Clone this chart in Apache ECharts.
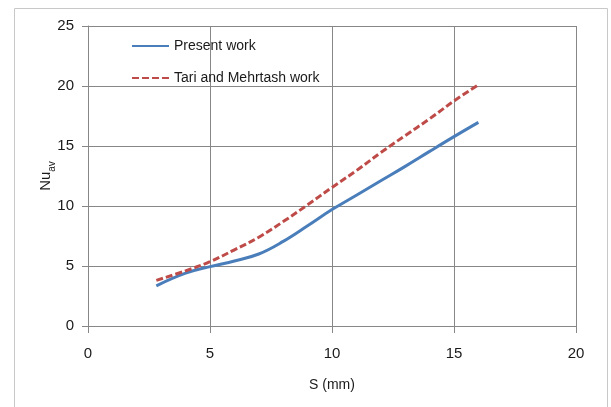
<!DOCTYPE html>
<html>
<head>
<meta charset="utf-8">
<script src="https://cdn.jsdelivr.net/npm/echarts@6/dist/echarts.min.js"></script>
<style>
  html, body { margin: 0; padding: 0; background: #ffffff; }
  #chart { width: 611px; height: 407px; }
</style>
</head>
<body>
<div id="chart"></div>
<script>
// Spacing S (mm) and average Nusselt number for both studies
const sPresent = [2.8, 4, 5, 6, 7, 8, 9, 10, 11, 12, 13, 14, 15, 16];
const nuPresent = [3.35, 4.4, 4.95, 5.42, 6.0, 7.05, 8.35, 9.7, 10.9, 12.1, 13.3, 14.55, 15.78, 16.97];

const sTari = [2.8, 4, 5, 6, 7, 8, 9, 10, 11, 12, 13, 14, 15, 16];
const nuTari = [3.8, 4.6, 5.36, 6.35, 7.4, 8.7, 10.1, 11.55, 12.95, 14.45, 15.87, 17.27, 18.75, 20.1];

const xTicks = [0, 5, 10, 15, 20];
const yTicks = [0, 5, 10, 15, 20, 25];

const seriesNames = ['Present work', 'Tari and Mehrtash work'];

const pairs = (xs, ys) => xs.map((x, i) => [x, ys[i]]);

const FONT = '"Liberation Sans", Arial, sans-serif';
const TEXT_COLOR = '#1a1a1a';
const GRID_COLOR = '#878787';

const chart = echarts.init(document.getElementById('chart'), null, { renderer: 'canvas' });

chart.setOption({
  backgroundColor: '#ffffff',
  animation: false,
  graphic: [{
    type: 'rect',
    shape: { x: 14.5, y: 8.5, width: 593, height: 410 },
    style: { fill: 'none', stroke: '#c8c8c8', lineWidth: 1 },
    silent: true,
    z: -10
  }],
  grid: { left: 88, right: 35, top: 26, bottom: 81, containLabel: false },
  legend: {
    orient: 'vertical',
    left: 126,
    top: 34,
    itemWidth: 37,
    itemHeight: 14,
    itemGap: 18,
    data: seriesNames,
    itemStyle: { opacity: 0 },
    textStyle: { fontFamily: FONT, fontSize: 14, color: TEXT_COLOR }
  },
  xAxis: {
    type: 'value',
    min: xTicks[0],
    max: xTicks[xTicks.length - 1],
    interval: 5,
    name: 'S (mm)',
    nameLocation: 'middle',
    nameGap: 52,
    nameMoveOverlap: false,
    nameTextStyle: { fontFamily: FONT, fontSize: 14, color: TEXT_COLOR },
    axisLine: { show: true, lineStyle: { color: GRID_COLOR, width: 1 } },
    axisTick: { show: true, length: 7, lineStyle: { color: GRID_COLOR } },
    axisLabel: {
      margin: 20,
      fontFamily: FONT, fontSize: 15, color: TEXT_COLOR,
      formatter: v => xTicks.includes(v) ? String(v) : ''
    },
    splitLine: { show: true, lineStyle: { color: GRID_COLOR, width: 1 } }
  },
  yAxis: {
    type: 'value',
    min: yTicks[0],
    max: yTicks[yTicks.length - 1],
    interval: 5,
    name: '{n|Nu}{s|av}',
    nameLocation: 'middle',
    nameGap: 31,
    nameMoveOverlap: false,
    nameRotate: 90,
    nameTextStyle: {
      fontFamily: FONT, fontSize: 15, color: TEXT_COLOR,
      rich: {
        n: { fontFamily: FONT, fontSize: 15, color: TEXT_COLOR, verticalAlign: 'top' },
        s: { fontFamily: FONT, fontSize: 10, color: TEXT_COLOR, verticalAlign: 'bottom', padding: [9, 0, 0, 0] }
      }
    },
    axisLine: { show: true, lineStyle: { color: GRID_COLOR, width: 1 } },
    axisTick: { show: true, length: 6, lineStyle: { color: GRID_COLOR } },
    axisLabel: {
      margin: 14,
      fontFamily: FONT, fontSize: 15, color: TEXT_COLOR,
      formatter: v => yTicks.includes(v) ? String(v) : ''
    },
    splitLine: { show: true, lineStyle: { color: GRID_COLOR, width: 1 } }
  },
  series: [
    {
      name: seriesNames[0],
      type: 'line',
      data: pairs(sPresent, nuPresent),
      smooth: 0.4,
      symbol: 'none',
      lineStyle: { color: '#4a7ebb', width: 3 },
      itemStyle: { color: '#4a7ebb' },
      z: 3
    },
    {
      name: seriesNames[1],
      type: 'line',
      data: pairs(sTari, nuTari),
      smooth: 0.4,
      symbol: 'none',
      lineStyle: { color: '#be4b48', width: 3, type: [7, 3] },
      itemStyle: { color: '#be4b48' },
      z: 4
    }
  ]
});
</script>
</body>
</html>
